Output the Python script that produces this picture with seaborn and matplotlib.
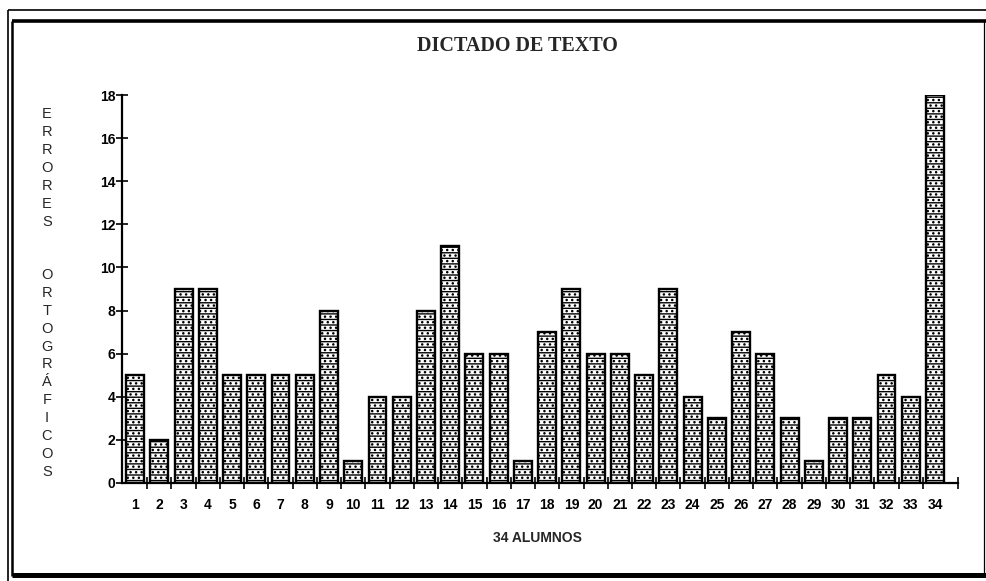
import numpy as np
import pandas as pd
import matplotlib
matplotlib.use("Agg")
import matplotlib.pyplot as plt
from matplotlib.lines import Line2D
import seaborn as sns

# Spelling errors per student in the dictation exercise
alumnos = [str(i) for i in range(1, 35)]
errores = [5, 2, 9, 9, 5, 5, 5, 5, 8, 1, 4, 4, 8, 11, 6, 6, 1, 7, 9, 6,
           6, 5, 9, 4, 3, 7, 6, 3, 1, 3, 3, 5, 4, 18]
y_ticks = list(range(0, 19, 2))

titulo = "DICTADO DE TEXTO"
etiqueta_x = "34 ALUMNOS"
etiqueta_y = "ERRORES  ORTOGRÁFICOS"

sns.set_style("white")
plt.rcParams["font.family"] = ["Liberation Sans", "DejaVu Sans"]
plt.rcParams["hatch.linewidth"] = 1.0
plt.rcParams["hatch.color"] = "black"

df = pd.DataFrame({"alumno": alumnos, "errores": errores})

W, H = 986, 581
fig = plt.figure(figsize=(W / 100, H / 100), dpi=100)
ax = fig.add_axes([122 / W, 1 - 483 / H, 836 / W, 388 / H])

sns.barplot(data=df, x="alumno", y="errores", color="white",
            edgecolor="black", linewidth=1.7, width=0.74, ax=ax)
for p in ax.patches:
    p.set_hatch("---...")
    p.set_facecolor("white")
    p.set_edgecolor("black")

n = len(alumnos)
ax.set_xlim(-0.54, n - 0.05)
ax.set_ylim(0, 18)

# axes: only left and bottom lines, ticks crossing the axis
for s in ["top", "right"]:
    ax.spines[s].set_visible(False)
for s in ["left", "bottom"]:
    ax.spines[s].set_linewidth(1.6)
    ax.spines[s].set_color("black")

ax.set_yticks(y_ticks)
ax.set_yticklabels([str(v) for v in y_ticks])
ax.tick_params(axis="y", left=True, direction="inout", length=8, width=1.2,
               pad=0.8, labelsize=10, colors="black")

ax.set_xticks(range(n))
ax.set_xticklabels(alumnos)
ax.tick_params(axis="x", which="major", bottom=True, length=0, pad=10.5,
               labelsize=10, colors="black")
ax.set_xticks(list(np.arange(0.5, n - 1, 1.0)) + [n - 0.05], minor=True)
ax.tick_params(axis="x", which="minor", bottom=True, direction="inout",
               length=8, width=1.2, color="black")
for lab in ax.get_xticklabels() + ax.get_yticklabels():
    lab.set_fontweight("bold")

ax.set_xlabel(etiqueta_x, fontsize=10, fontweight="bold", va="center")
ax.xaxis.set_label_coords((537 - 122) / 836, (483 - 538) / 388)
ax.set_ylabel("")

fig.text(517 / W, 1 - 46 / H, titulo, ha="center", va="center",
         fontsize=14.5, fontweight="bold", family="Liberation Serif")

fig.text(47 / W, 1 - 293 / H, "\n".join(etiqueta_y), ha="center",
         va="center", fontsize=10.5, linespacing=1.35)

# frame around the chart
def fline(x0, y0, x1, y1, lw):
    fig.add_artist(Line2D([x0 / W, x1 / W], [1 - y0 / H, 1 - y1 / H],
                          color="black", lw=lw, solid_capstyle="butt",
                          transform=fig.transFigure))

fline(8, 10, 986, 10, 1.2)
fline(8, 10, 8, 581, 1.2)
fline(12, 21, 986, 21, 2.6)
fline(12, 21, 12, 576, 1.8)
fline(12, 575, 986, 575, 3.6)
fline(984, 21, 984, 575, 0.9)

fig.savefig("out.png", dpi=100, facecolor="white")
